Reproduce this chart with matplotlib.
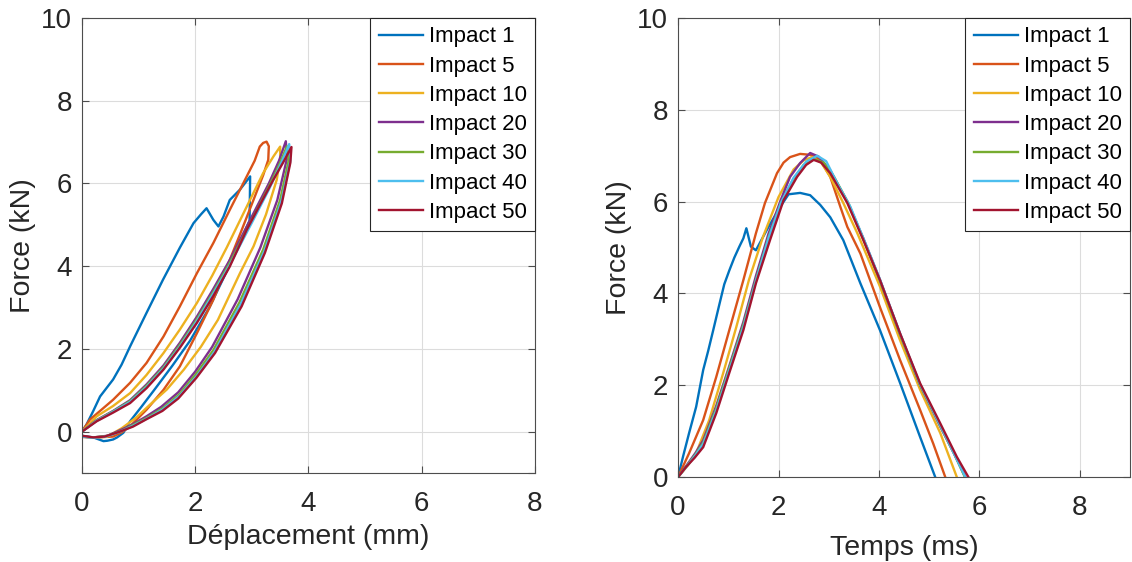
import matplotlib
matplotlib.use("Agg")
import matplotlib.pyplot as plt

plt.rcParams['font.family'] = ['Liberation Sans', 'DejaVu Sans']

labels = ['Impact 1', 'Impact 5', 'Impact 10', 'Impact 20', 'Impact 30', 'Impact 40', 'Impact 50']
colors = ['#0072BD', '#D95319', '#EDB120', '#7E2F8E', '#77AC30', '#4DBEEE', '#A2142F']

# force vs displacement (loading then unloading)
disp_1 = [0, 0.08, 0.2, 0.32, 0.55, 0.7, 0.85, 1.14, 1.43, 1.73, 1.97, 2.1, 2.2, 2.32, 2.41, 2.5, 2.61, 2.79, 2.97,
          2.96, 2.6, 2.25, 1.91, 1.6, 1.3, 1.05, 0.85, 0.73, 0.62, 0.55, 0.45, 0.38, 0.2, 0]
force_d1 = [0, 0.17, 0.5, 0.85, 1.26, 1.62, 2.06, 2.87, 3.67, 4.45, 5.04, 5.25, 5.4, 5.12, 4.96, 5.2, 5.6, 5.85, 6.17,
            5.1, 4.0, 3.0, 2.2, 1.6, 1.05, 0.6, 0.25, -0.03, -0.14, -0.19, -0.22, -0.23, -0.14, -0.1]
disp_5 = [0, 0.14, 0.55, 0.85, 1.14, 1.44, 1.73, 2.03, 2.32, 2.61, 2.91, 3.05, 3.14, 3.2, 3.26,
          3.3, 3.29, 3.2, 3.0, 2.8, 2.61, 2.32, 2.03, 1.73, 1.44, 1.14, 0.85, 0.7, 0.55, 0.26, 0]
force_d5 = [0, 0.29, 0.77, 1.18, 1.66, 2.3, 3.03, 3.83, 4.56, 5.36, 6.17, 6.55, 6.89, 6.98, 7.01,
            6.9, 6.57, 6.2, 5.5, 4.8, 4.15, 3.19, 2.38, 1.58, 1.01, 0.53, 0.13, -0.02, -0.12, -0.14, -0.13]
disp_10 = [0, 0.26, 0.55, 0.85, 1.14, 1.44, 1.73, 2.03, 2.3, 2.56, 2.91, 3.2, 3.38, 3.5,
           3.5, 3.44, 3.25, 3.03, 2.79, 2.4, 2.1, 1.8, 1.5, 1.2, 0.95, 0.7, 0.45, 0.2, 0]
force_d10 = [0, 0.37, 0.62, 0.93, 1.37, 1.9, 2.47, 3.11, 3.77, 4.46, 5.44, 6.25, 6.65, 6.89,
             6.6, 6.09, 5.25, 4.48, 3.83, 2.7, 2.05, 1.5, 1.02, 0.65, 0.33, 0.08, -0.12, -0.15, -0.12]
disp_20 = [0, 0.26, 0.55, 0.85, 1.14, 1.44, 1.73, 2.03, 2.32, 2.61, 3.0, 3.3, 3.48, 3.6,
           3.62, 3.45, 3.15, 2.75, 2.3, 2.0, 1.7, 1.4, 1.14, 0.9, 0.7, 0.45, 0.2, 0]
force_d20 = [0, 0.28, 0.5, 0.76, 1.14, 1.6, 2.15, 2.78, 3.45, 4.15, 5.2, 6.0, 6.55, 7.02,
             6.6, 5.6, 4.45, 3.2, 2.05, 1.45, 0.95, 0.6, 0.37, 0.18, 0.05, -0.1, -0.14, -0.12]
disp_30 = [0, 0.26, 0.55, 0.85, 1.14, 1.44, 1.73, 2.03, 2.32, 2.61, 3.0, 3.3, 3.5, 3.62,
           3.65, 3.5, 3.2, 2.78, 2.32, 2.02, 1.72, 1.42, 1.14, 0.9, 0.7, 0.43, 0.2, 0]
force_d30 = [0, 0.27, 0.49, 0.74, 1.11, 1.56, 2.1, 2.72, 3.38, 4.08, 5.12, 5.92, 6.5, 6.9,
             6.55, 5.6, 4.4, 3.12, 1.97, 1.4, 0.9, 0.56, 0.33, 0.16, 0.02, -0.11, -0.14, -0.12]
disp_40 = [0, 0.26, 0.55, 0.85, 1.14, 1.44, 1.73, 2.03, 2.32, 2.61, 3.0, 3.3, 3.52, 3.66,
           3.68, 3.52, 3.22, 2.8, 2.34, 2.03, 1.72, 1.42, 1.14, 0.9, 0.68, 0.42, 0.2, 0]
force_d40 = [0, 0.26, 0.48, 0.72, 1.08, 1.53, 2.06, 2.68, 3.34, 4.03, 5.05, 5.85, 6.5, 6.95,
             6.55, 5.56, 4.36, 3.07, 1.93, 1.35, 0.86, 0.53, 0.31, 0.14, 0.0, -0.12, -0.15, -0.12]
disp_50 = [0, 0.26, 0.55, 0.85, 1.14, 1.44, 1.73, 2.03, 2.32, 2.61, 2.91, 3.15, 3.38, 3.55, 3.7,
           3.68, 3.53, 3.23, 2.82, 2.35, 2.02, 1.7, 1.42, 1.14, 0.9, 0.67, 0.4, 0.2, 0]
force_d50 = [0, 0.25, 0.46, 0.69, 1.05, 1.5, 2.03, 2.63, 3.28, 3.99, 4.88, 5.5, 6.09, 6.5, 6.88,
             6.5, 5.52, 4.32, 3.03, 1.9, 1.3, 0.8, 0.5, 0.3, 0.12, 0.0, -0.12, -0.14, -0.1]

# force vs time
time_1 = [0, 0.1, 0.22, 0.36, 0.5, 0.6, 0.7, 0.82, 0.92, 1.02, 1.12, 1.22, 1.3, 1.36, 1.45, 1.55, 1.8, 2.03, 2.2,
          2.43, 2.63, 2.83, 3.03, 3.29, 3.63, 4.02, 4.42, 4.82, 5.12]
force_t1 = [0, 0.45, 0.96, 1.53, 2.33, 2.75, 3.2, 3.75, 4.2, 4.5, 4.78, 5.02, 5.2, 5.42, 5.02, 4.94, 5.45, 5.88, 6.16,
            6.19, 6.14, 5.93, 5.66, 5.16, 4.22, 3.2, 2.05, 0.87, 0]
time_5 = [0, 0.22, 0.5, 0.76, 1.02, 1.3, 1.55, 1.73, 1.97, 2.1, 2.23, 2.43, 2.63, 2.83, 3.03, 3.23,
          3.37, 3.63, 4.02, 4.42, 4.82, 5.08, 5.32]
force_t5 = [0, 0.52, 1.24, 2.18, 3.2, 4.29, 5.31, 5.97, 6.62, 6.85, 6.97, 7.04, 7.02, 6.91, 6.54, 5.89,
            5.45, 4.87, 3.7, 2.55, 1.46, 0.73, 0]
time_10 = [0, 0.2, 0.36, 0.62, 0.9, 1.16, 1.41, 1.69, 2.0, 2.3, 2.5, 2.67, 2.85, 3.03, 3.29, 3.57,
           4.02, 4.42, 4.82, 5.22, 5.55]
force_t10 = [0, 0.26, 0.52, 1.24, 2.27, 3.27, 4.29, 5.23, 6.1, 6.7, 6.9, 6.97, 6.85, 6.54, 5.97, 5.31,
             4.15, 2.98, 1.9, 0.96, 0]
time_20 = [0, 0.2, 0.35, 0.5, 0.76, 1.02, 1.3, 1.55, 1.8, 2.05, 2.23, 2.43, 2.63, 2.8, 3.03, 3.37,
           3.69, 4.02, 4.42, 4.82, 5.22, 5.5, 5.72]
force_t20 = [0, 0.3, 0.53, 0.8, 1.55, 2.42, 3.38, 4.38, 5.3, 6.05, 6.54, 6.84, 7.06, 6.98, 6.68, 6.0,
             5.2, 4.3, 3.12, 2.0, 1.1, 0.5, 0]
time_30 = [0, 0.2, 0.35, 0.5, 0.76, 1.02, 1.3, 1.55, 1.8, 2.05, 2.3, 2.5, 2.7, 2.9, 3.1, 3.4,
           3.7, 4.02, 4.42, 4.82, 5.22, 5.5, 5.71]
force_t30 = [0, 0.28, 0.5, 0.75, 1.5, 2.38, 3.32, 4.3, 5.22, 5.98, 6.5, 6.8, 6.93, 6.85, 6.55, 5.95,
             5.15, 4.27, 3.1, 2.0, 1.12, 0.5, 0]
time_40 = [0, 0.2, 0.35, 0.5, 0.76, 1.02, 1.3, 1.55, 1.8, 2.05, 2.3, 2.55, 2.77, 2.95, 3.17, 3.43,
           3.76, 4.02, 4.42, 4.82, 5.22, 5.5, 5.72]
force_t40 = [0, 0.27, 0.48, 0.72, 1.45, 2.33, 3.27, 4.27, 5.2, 5.98, 6.52, 6.87, 7.0, 6.88, 6.4, 5.89,
             5.01, 4.3, 3.13, 2.02, 1.13, 0.5, 0]
time_50 = [0, 0.16, 0.33, 0.5, 0.76, 1.02, 1.3, 1.55, 1.83, 2.1, 2.37, 2.55, 2.7, 2.85, 3.03, 3.37,
           3.69, 4.02, 4.42, 4.82, 5.22, 5.55, 5.78]
force_t50 = [0, 0.22, 0.42, 0.65, 1.39, 2.27, 3.2, 4.22, 5.16, 6.03, 6.54, 6.8, 6.91, 6.85, 6.62, 5.97,
             5.16, 4.29, 3.13, 2.04, 1.17, 0.44, 0]

disp_curves = [(disp_1, force_d1), (disp_5, force_d5), (disp_10, force_d10), (disp_20, force_d20),
               (disp_30, force_d30), (disp_40, force_d40), (disp_50, force_d50)]
time_curves = [(time_1, force_t1), (time_5, force_t5), (time_10, force_t10), (time_20, force_t20),
               (time_30, force_t30), (time_40, force_t40), (time_50, force_t50)]

fig = plt.figure(figsize=(11.32, 5.62), dpi=100)
ax1 = fig.add_axes([0.0724, 0.1584, 0.4002, 0.8096])
ax2 = fig.add_axes([0.599, 0.1512, 0.3993, 0.8167])


def style(ax):
    ax.grid(True, color='#dcdcdc', linewidth=0.8)
    ax.set_axisbelow(True)
    for s in ax.spines.values():
        s.set_color('#4d4d4d')
        s.set_linewidth(0.8)
    ax.tick_params(direction='in', length=5, width=0.8, color='#4d4d4d',
                   labelsize=20, labelcolor='#262626', top=True, right=True)
    ax.tick_params(axis='x', pad=13)
    ax.tick_params(axis='y', pad=7)
    ax.set_ylabel('Force (kN)', fontsize=20.5, color='#262626')
    leg = ax.legend(loc='upper right', fontsize=16, borderaxespad=0, fancybox=False,
                    labelspacing=0.37, handlelength=2.0, handletextpad=0.25,
                    borderpad=0.38, framealpha=1)
    leg.get_frame().set_edgecolor('#262626')
    leg.get_frame().set_linewidth(0.8)


for (x, y), c, lab in zip(disp_curves, colors, labels):
    ax1.plot(x, y, color=c, lw=1.7, label=lab)
ax1.set_xlim(0, 8)
ax1.set_ylim(-1, 10)
ax1.set_xticks([0, 2, 4, 6, 8])
ax1.set_yticks([-1, 0, 2, 4, 6, 8, 10])
ax1.set_yticklabels(['', '0', '2', '4', '6', '8', '10'])
ax1.set_xlabel('Déplacement (mm)', fontsize=20.5, color='#262626', labelpad=5)
style(ax1)

for (x, y), c, lab in zip(time_curves, colors, labels):
    ax2.plot(x, y, color=c, lw=1.7, label=lab)
ax2.set_xlim(0, 9)
ax2.set_ylim(0, 10)
ax2.set_xticks([0, 2, 4, 6, 8])
ax2.set_yticks([0, 2, 4, 6, 8, 10])
ax2.set_xlabel('Temps (ms)', fontsize=20.5, color='#262626', labelpad=10)
style(ax2)

plt.savefig('out.png', dpi=100)
